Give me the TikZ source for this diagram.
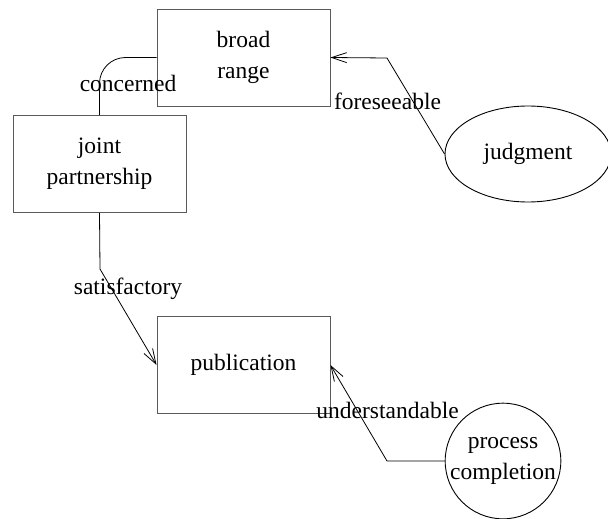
\documentclass[tikz,border=0pt]{standalone}
\usepackage{fontspec}
\setmainfont{Liberation Serif}
\usepackage{tikz}
\usetikzlibrary{positioning, arrows.meta, calc, shapes.geometric}
\definecolor{boxgray}{RGB}{90, 90, 90}

\begin{document}
\begin{tikzpicture}[
    x=1pt, y=-1pt,
    every node/.style={font=\fontsize{23.5}{31}\selectfont},
    block/.style={rectangle, draw=boxgray, line width=0.9pt, minimum width=173pt, minimum height=97pt, inner sep=0pt, align=center},
    oval/.style={ellipse, draw, line width=0.9pt, minimum width=166pt, minimum height=96pt, inner sep=0pt, align=center},
    disc/.style={circle, draw, line width=0.9pt, minimum size=114pt, inner sep=0pt, align=center},
    link/.style={line width=0.8pt},
    arrow/.style={link, -{Straight Barb[length=15pt, width=10pt]}},
    label/.style={inner sep=1pt}
]
    \useasboundingbox (0,0) rectangle (608,519);

    % Boxes
    \node[block] (range) at (243.5,57.5) {broad\\range};
    \node[block] (joint) at (99.5,164) {joint\\partnership};
    \node[block] (pub) at (243.5,365) {publication};

    % Round ones
    \node[oval] (judge) at (528,154) {judgment};
    \node[disc] (proc) at (503,461) {process\\completion};

    % Bends
    \coordinate (b1) at (387,58);
    \coordinate (b2) at (100,269);
    \coordinate (b3) at (387,461);

    % Connectors
    \draw[link, rounded corners=26pt] (joint.north) |- (range.west);
    \draw[arrow] (judge.west) -- (b1) -- (range.east);
    \draw[arrow] (joint.south) -- (b2) -- (pub.west);
    \draw[arrow] (proc.west) -- (b3) -- (pub.east);

    % Labels
    \node[label] (l1) at ($(joint.north)!.5!(range.west)+(0,-3)$) {concerned};
    \node[label] (l2) at ($(judge.west)!.5!(range.east)+(0,-4)$) {foreseeable};
    \node[label] (l3) at ($(joint.south)!.5!(pub.west)$) {satisfactory};
    \node[label] (l4) at ($(proc.west)!.5!(pub.east)+(0,-3)$) {understandable};
\end{tikzpicture}
\end{document}
